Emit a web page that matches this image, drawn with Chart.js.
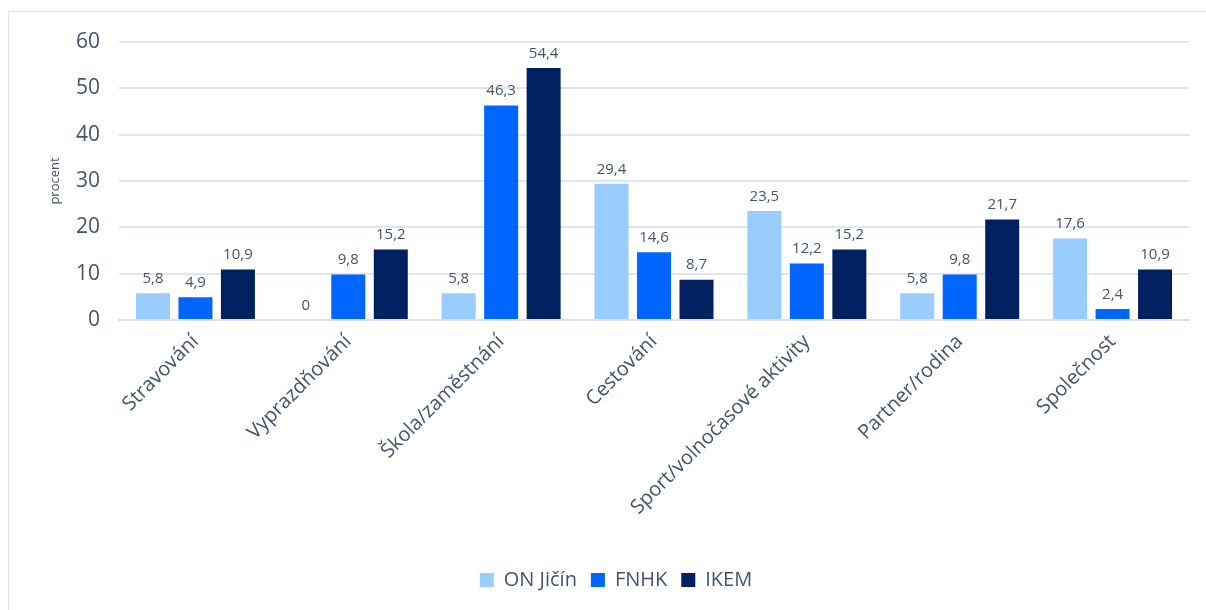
<!DOCTYPE html>
<html lang="cs">
<head>
<meta charset="utf-8">
<script src="https://cdn.jsdelivr.net/npm/chart.js@4"></script>
<style>
  html, body { margin: 0; padding: 0; background: #fff; }
  #ramecek {
    position: absolute; left: 8px; top: 11px; width: 1220px; height: 620px;
    border: 1px solid #dde2ea;
  }
  #obal { position: absolute; left: 0; top: 0; width: 1206px; height: 610px; }
</style>
</head>
<body>
<div id="ramecek"></div>
<div id="obal"><canvas id="graf"></canvas></div>
<script>
const kategorie = ['Stravování', 'Vyprazdňování', 'Škola/zaměstnání', 'Cestování',
  'Sport/volnočasové aktivity', 'Partner/rodina', 'Společnost'];
const onJicin = [5.8, 0, 5.8, 29.4, 23.5, 5.8, 17.6];
const fnhk = [4.9, 9.8, 46.3, 14.6, 12.2, 9.8, 2.4];
const ikem = [10.9, 15.2, 54.4, 8.7, 15.2, 21.7, 10.9];
const osaY = [0, 10, 20, 30, 40, 50, 60];

const barvaTextu = '#44546a';
const pismo = "'Open Sans', 'Noto Sans', sans-serif";

// popisky hodnot nad sloupci (desetinna carka)
const popiskyHodnot = {
  id: 'popiskyHodnot',
  afterDatasetsDraw(chart) {
    const ctx = chart.ctx;
    ctx.save();
    ctx.font = '15px ' + pismo;
    ctx.fillStyle = barvaTextu;
    ctx.textAlign = 'center';
    ctx.textBaseline = 'bottom';
    chart.data.datasets.forEach((ds, i) => {
      const meta = chart.getDatasetMeta(i);
      meta.data.forEach((bar, j) => {
        const text = String(ds.data[j]).replace('.', ',');
        ctx.fillText(text, bar.x, bar.y - 7);
      });
    });
    ctx.restore();
  }
};

new Chart(document.getElementById('graf'), {
  type: 'bar',
  data: {
    labels: kategorie,
    datasets: [
      { label: 'ON Jičín', data: onJicin, backgroundColor: '#99ccff' },
      { label: 'FNHK', data: fnhk, backgroundColor: '#0066ff' },
      { label: 'IKEM', data: ikem, backgroundColor: '#002060' }
    ]
  },
  options: {
    responsive: true,
    maintainAspectRatio: false,
    animation: false,
    datasets: { bar: { barPercentage: 0.8, categoryPercentage: 0.834 } },
    layout: { padding: { left: 43, right: 17, top: 42, bottom: 10 } },
    scales: {
      x: {
        grid: { display: false },
        border: { color: '#dde2ea', width: 2 },
        ticks: {
          color: barvaTextu, font: { family: pismo, size: 20 },
          minRotation: 45, maxRotation: 45, padding: 2
        },
        afterFit(scale) { scale.height = 236; }
      },
      y: {
        min: 0, max: 60,
        afterBuildTicks(scale) { scale.ticks = osaY.map(v => ({ value: v })); },
        grid: { color: '#e1e5ec', lineWidth: 2, drawTicks: false },
        border: { display: false },
        ticks: { color: barvaTextu, font: { family: pismo, size: 21 }, padding: 19 },
        title: {
          display: true, text: 'procent', color: barvaTextu,
          font: { family: pismo, size: 13 }, padding: { bottom: 6 }
        },
        afterFit(scale) { scale.width = 76; }
      }
    },
    plugins: {
      legend: {
        position: 'bottom',
        labels: {
          color: barvaTextu, font: { family: pismo, size: 20 },
          boxWidth: 14, boxHeight: 14, padding: 14
        }
      },
      tooltip: { enabled: false }
    }
  },
  plugins: [popiskyHodnot]
});
</script>
</body>
</html>
